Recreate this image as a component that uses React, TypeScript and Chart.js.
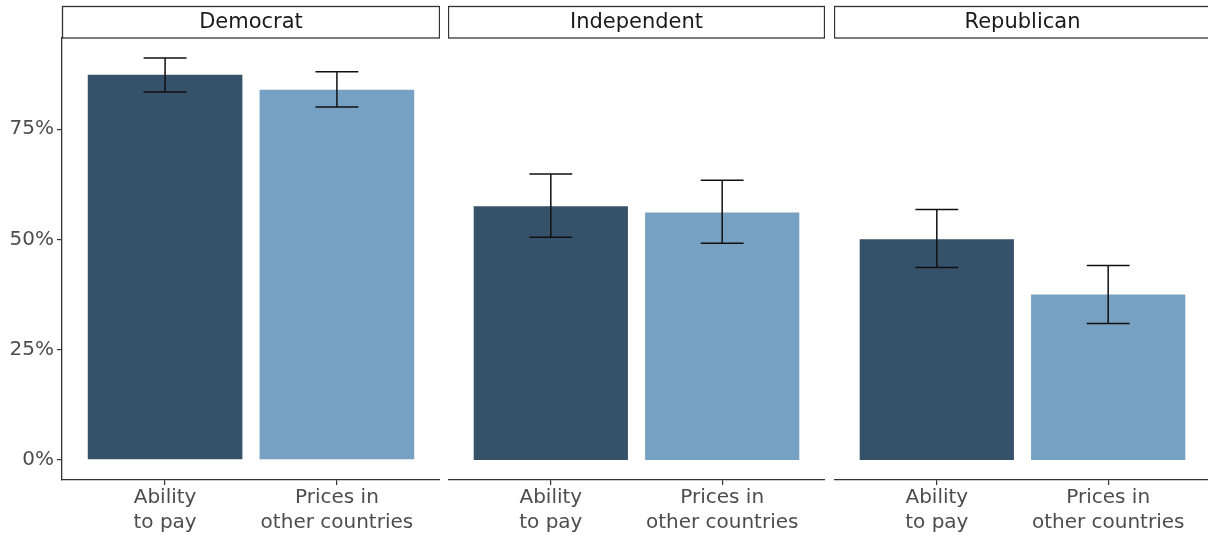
import React, { useEffect, useRef } from "react";
import { Chart, registerables } from "chart.js";

Chart.register(...registerables);

const panels = ["Democrat", "Independent", "Republican"];
const categories = [["Ability", "to pay"], ["Prices in", "other countries"]];
const demValues = [87.3, 83.9];
const demLow = [83.4, 80.0];
const demHigh = [91.1, 88.0];
const indValues = [57.5, 56.1];
const indLow = [50.5, 49.1];
const indHigh = [64.8, 63.4];
const repValues = [50.0, 37.5];
const repLow = [43.6, 30.9];
const repHigh = [56.8, 44.1];
const yTicks = [0, 25, 50, 75];
const barColors = ["#36516a", "#76a1c2"];

const panelData = [
  { values: demValues, low: demLow, high: demHigh },
  { values: indValues, low: indLow, high: indHigh },
  { values: repValues, low: repLow, high: repHigh },
];

const allHigh = [...demHigh, ...indHigh, ...repHigh];
const hiMax = Math.max(...allHigh);
const yMin = -hiMax * 0.05;
const yMax = hiMax * 1.05;

const FONT = "'DejaVu Sans', sans-serif";

function Panel({ index, left, width, showY }: { index: number; left: number; width: number; showY: boolean }) {
  const ref = useRef<HTMLCanvasElement | null>(null);
  useEffect(() => {
    if (!ref.current) return;
    const d = panelData[index];
    const title = panels[index];
    const stripPlugin = {
      id: "strip",
      afterDraw(chart: any) {
        const { ctx, chartArea } = chart;
        ctx.save();
        ctx.strokeStyle = "#333333";
        ctx.lineWidth = 1.3;
        ctx.strokeRect(chartArea.left + 0.5, 6.5, chartArea.right - chartArea.left - 1, chartArea.top - 6.5);
        ctx.fillStyle = "#1a1a1a";
        ctx.font = `21px ${FONT}`;
        ctx.textAlign = "center";
        ctx.textBaseline = "middle";
        ctx.fillText(title, (chartArea.left + chartArea.right) / 2, 23);
        ctx.restore();
      },
    };
    const errPlugin = {
      id: "errbars",
      afterDatasetsDraw(chart: any) {
        const { ctx } = chart;
        const xs = chart.scales.x;
        const ys = chart.scales.y;
        const half = Math.abs(xs.getPixelForValue(0.125) - xs.getPixelForValue(0));
        ctx.save();
        ctx.strokeStyle = "#111111";
        ctx.lineWidth = 1.5;
        d.values.forEach((_v: number, i: number) => {
          const x = xs.getPixelForValue(i);
          const y1 = ys.getPixelForValue(d.low[i]);
          const y2 = ys.getPixelForValue(d.high[i]);
          ctx.beginPath();
          ctx.moveTo(x, y1);
          ctx.lineTo(x, y2);
          ctx.moveTo(x - half, y1);
          ctx.lineTo(x + half, y1);
          ctx.moveTo(x - half, y2);
          ctx.lineTo(x + half, y2);
          ctx.stroke();
        });
        ctx.restore();
      },
    };
    const chart = new Chart(ref.current, {
      type: "bar",
      data: {
        datasets: [
          {
            data: d.values.map((v: number, i: number) => ({ x: i, y: v })),
            backgroundColor: barColors,
            borderWidth: 0,
            barPercentage: 0.9,
            categoryPercentage: 1,
          },
        ],
      },
      options: {
        animation: false,
        responsive: true,
        maintainAspectRatio: false,
        layout: { padding: { top: 38, left: 0, right: 0, bottom: 0 } },
        plugins: { legend: { display: false }, tooltip: { enabled: false } },
        scales: {
          x: {
            type: "linear",
            min: -0.6,
            max: 1.6,
            offset: false,
            afterBuildTicks: (s: any) => {
              s.ticks = categories.map((_c, i) => ({ value: i }));
            },
            afterFit: (s: any) => {
              s.height = 56;
            },
            grid: { offset: false, drawOnChartArea: false, drawTicks: true, tickLength: 5, color: "#333333", lineWidth: 1.2 },
            border: { display: true, color: "#333333", width: 1.3 },
            ticks: {
              padding: 0,
              color: "#4d4d4d",
              font: { family: FONT, size: 20, lineHeight: 1.25 },
              maxRotation: 0,
              autoSkip: false,
              callback: (v: any) => categories[Number(v)] ?? "",
            },
          },
          y: {
            display: showY,
            min: yMin,
            max: yMax,
            afterBuildTicks: (s: any) => {
              s.ticks = yTicks.map((v) => ({ value: v }));
            },
            afterFit: (s: any) => {
              s.width = showY ? 62 : 0;
            },
            grid: { drawOnChartArea: false, drawTicks: true, tickLength: 5, color: "#333333", lineWidth: 1.2 },
            border: { display: true, color: "#333333", width: 1.3 },
            ticks: {
              padding: 3,
              color: "#4d4d4d",
              font: { family: FONT, size: 20 },
              callback: (v: any) => `${v}%`,
            },
          },
        },
      },
      plugins: [stripPlugin, errPlugin],
    });
    return () => chart.destroy();
  }, [index, showY]);
  return (
    <div style={{ position: "absolute", left, top: 0, width, height: 536 }}>
      <canvas ref={ref} />
    </div>
  );
}

export default function App() {
  return (
    <div
      style={{
        position: "fixed",
        left: 0,
        top: 0,
        width: 1208,
        height: 536,
        overflow: "hidden",
        background: "#ffffff",
      }}
    >
      <Panel index={0} left={0} width={440} showY={true} />
      <Panel index={1} left={448} width={377} showY={false} />
      <Panel index={2} left={834} width={377} showY={false} />
    </div>
  );
}
